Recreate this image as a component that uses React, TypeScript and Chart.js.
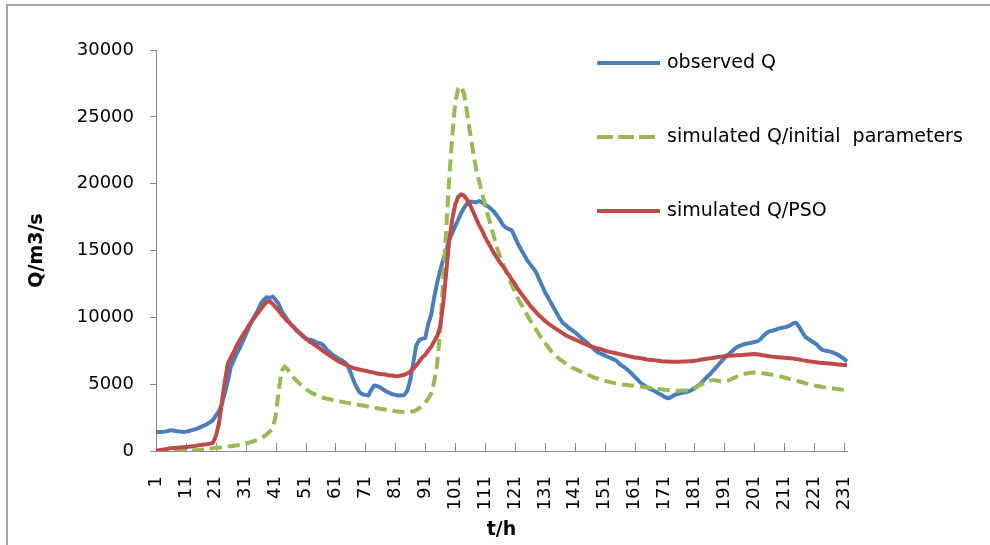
import React, { useEffect, useRef } from "react";
import { Chart, registerables } from "chart.js";

Chart.register(...registerables);

// ---- data ----
const timeSteps: string[] = Array.from({ length: 232 }, (_, i) => String(i + 1));

const tickLabels = [
  "1", "11", "21", "31", "41", "51", "61", "71", "81", "91", "101", "111",
  "121", "131", "141", "151", "161", "171", "181", "191", "201", "211", "221", "231",
];

const yTicks = [0, 5000, 10000, 15000, 20000, 25000, 30000];

const observedQ = [
  1400, 1420, 1430, 1450, 1500, 1560, 1520, 1480, 1460, 1430,
  1450, 1500, 1560, 1620, 1700, 1800, 1900, 2000, 2150, 2300,
  2650, 2950, 3500, 4300, 5200, 6300, 6800, 7300, 7700, 8200,
  8700, 9200, 9700, 10100, 10500, 11000, 11300, 11500, 11450, 11550,
  11300, 11000, 10500, 10100, 9800, 9500, 9300, 9000, 8800, 8600,
  8400, 8350, 8300, 8200, 8100, 8050, 7900, 7600, 7400, 7200,
  7050, 6900, 6800, 6650, 6400, 5900, 5300, 4800, 4400, 4250,
  4200, 4150, 4600, 4900, 4850, 4750, 4600, 4450, 4350, 4250,
  4200, 4150, 4150, 4200, 4500, 5300, 6600, 7900, 8300, 8400,
  8450, 9500, 10200, 11500, 12600, 13500, 14300, 15000, 15800, 16300,
  16800, 17300, 17800, 18200, 18500, 18650, 18650, 18600, 18700, 18600,
  18400, 18300, 18100, 17900, 17600, 17300, 16900, 16700, 16600, 16500,
  16000, 15500, 15100, 14700, 14300, 14000, 13700, 13400, 12900, 12400,
  11900, 11500, 11100, 10700, 10300, 9900, 9600, 9400, 9200, 9050,
  8900, 8700, 8500, 8300, 8150, 7900, 7700, 7500, 7350, 7250,
  7150, 7050, 6950, 6850, 6750, 6500, 6350, 6200, 6000, 5800,
  5550, 5350, 5100, 4950, 4800, 4650, 4550, 4450, 4300, 4200,
  4050, 3950, 4000, 4150, 4250, 4300, 4350, 4400, 4450, 4550,
  4700, 4850, 5000, 5250, 5500, 5700, 5950, 6200, 6450, 6700,
  6950, 7150, 7350, 7550, 7750, 7850, 7950, 8000, 8050, 8100,
  8150, 8200, 8350, 8600, 8800, 8950, 9000, 9050, 9150, 9200,
  9250, 9300, 9400, 9550, 9600, 9300, 8900, 8550, 8400, 8250,
  8100, 7950, 7700, 7550, 7500, 7450, 7400, 7300, 7200, 7050,
  6900, 6700,
];

const simulatedInitial = [
  0, 0, 0, 0, 0, 0, 0, 0, 0, 10,
  20, 30, 40, 55, 70, 90, 110, 140, 170, 200,
  230, 260, 290, 310, 330, 360, 390, 420, 450, 500,
  560, 620, 690, 760, 850, 950, 1080, 1250, 1450, 1700,
  2600, 4500, 6000, 6300, 6100, 5800, 5500, 5250, 5050, 4850,
  4650, 4500, 4350, 4250, 4150, 4050, 3980, 3920, 3870, 3820,
  3770, 3720, 3680, 3640, 3600, 3560, 3520, 3480, 3440, 3400,
  3360, 3320, 3280, 3240, 3200, 3160, 3120, 3080, 3040, 3000,
  2970, 2950, 2930, 2920, 2920, 2930, 2970, 3050, 3200, 3400,
  3650, 3900, 4300, 5200, 6500, 9000, 12800, 16500, 20300, 23400,
  26000, 27100, 27300, 26700, 25300, 23800, 22400, 21100, 20200, 19300,
  18400, 17600, 16800, 16000, 15200, 14600, 14000, 13500, 12900, 12400,
  11900, 11400, 11000, 10600, 10200, 9800, 9450, 9100, 8750, 8400,
  8100, 7800, 7500, 7250, 7050, 6850, 6700, 6550, 6400, 6250,
  6150, 6050, 5950, 5850, 5750, 5650, 5550, 5450, 5400, 5300,
  5250, 5200, 5150, 5100, 5050, 5000, 4980, 4950, 4920, 4900,
  4870, 4850, 4820, 4790, 4760, 4730, 4700, 4670, 4640, 4610,
  4580, 4560, 4540, 4520, 4510, 4510, 4520, 4530, 4550, 4570,
  4650, 4800, 4950, 5050, 5150, 5250, 5300, 5300, 5250, 5200,
  5200, 5250, 5350, 5450, 5550, 5620, 5700, 5780, 5830, 5860,
  5870, 5860, 5840, 5810, 5780, 5740, 5700, 5650, 5600, 5550,
  5500, 5440, 5380, 5320, 5260, 5200, 5140, 5080, 5020, 4960,
  4910, 4860, 4820, 4780, 4750, 4720, 4690, 4660, 4630, 4600,
  4570, 4550,
];

const simulatedPSO = [
  20, 60, 100, 140, 170, 200, 220, 240, 260, 280,
  300, 320, 350, 380, 420, 450, 480, 500, 550, 600,
  1100, 2000, 3600, 5200, 6500, 7000, 7400, 7900, 8300, 8650,
  9000, 9400, 9700, 10000, 10300, 10600, 10900, 11150, 11200, 11000,
  10750, 10500, 10200, 9950, 9700, 9500, 9250, 9050, 8850, 8650,
  8450, 8250, 8100, 7950, 7800, 7650, 7450, 7300, 7150, 7000,
  6850, 6700, 6600, 6500, 6400, 6300, 6200, 6150, 6100, 6050,
  6000, 5950, 5900, 5850, 5800, 5750, 5750, 5700, 5650, 5650,
  5600, 5600, 5650, 5700, 5800, 5950, 6150, 6400, 6700, 7000,
  7200, 7500, 7800, 8200, 8600, 9300, 11000, 13300, 15700, 17300,
  18400, 19000, 19200, 19100, 18800, 18400, 17900, 17400, 16900, 16500,
  16000, 15600, 15200, 14800, 14450, 14100, 13800, 13450, 13150, 12800,
  12500, 12100, 11800, 11500, 11200, 10900, 10650, 10400, 10150, 9950,
  9750, 9550, 9400, 9250, 9100, 8950, 8800, 8650, 8550, 8450,
  8350, 8250, 8150, 8050, 7950, 7850, 7800, 7700, 7650, 7600,
  7500, 7450, 7400, 7350, 7300, 7250, 7200, 7150, 7100, 7050,
  7000, 6980, 6950, 6900, 6850, 6820, 6800, 6780, 6750, 6720,
  6700, 6690, 6680, 6680, 6680, 6680, 6690, 6700, 6710, 6720,
  6750, 6780, 6820, 6860, 6900, 6930, 6960, 7000, 7030, 7060,
  7100, 7120, 7130, 7150, 7160, 7170, 7180, 7200, 7220, 7240,
  7250, 7240, 7200, 7160, 7120, 7090, 7060, 7040, 7020, 7000,
  6980, 6960, 6940, 6920, 6890, 6850, 6800, 6760, 6720, 6690,
  6660, 6630, 6600, 6580, 6560, 6540, 6520, 6500, 6480, 6460,
  6440, 6420,
];

const seriesNames = [
  "observed Q",
  "simulated Q/initial  parameters",
  "simulated Q/PSO",
];

// ---- plugins ----
const insideTicks = {
  id: "insideTicks",
  beforeDatasetsDraw(chart: any) {
    const xs = chart.scales.x;
    const ctx = chart.ctx;
    ctx.save();
    ctx.strokeStyle = "#8c8c8c";
    ctx.lineWidth = 1;
    xs.ticks.forEach((_: any, i: number) => {
      const px = Math.round(xs.getPixelForTick(i)) + 0.5;
      ctx.beginPath();
      ctx.moveTo(px, xs.top);
      ctx.lineTo(px, xs.top - 8);
      ctx.stroke();
    });
    ctx.restore();
  },
};

const sideLegend = {
  id: "sideLegend",
  afterDraw(chart: any, _args: any, opts: any) {
    const ctx = chart.ctx;
    chart.data.datasets.forEach((ds: any, i: number) => {
      const y = opts.top + i * opts.gap;
      ctx.save();
      ctx.strokeStyle = ds.borderColor;
      ctx.lineWidth = ds.borderWidth;
      ctx.lineCap = "butt";
      ctx.setLineDash(ds.legendDash || []);
      ctx.beginPath();
      ctx.moveTo(opts.x, y);
      ctx.lineTo(opts.x + opts.lineLen, y);
      ctx.stroke();
      ctx.setLineDash([]);
      ctx.fillStyle = "#000";
      ctx.font = opts.font;
      ctx.textBaseline = "middle";
      ctx.textAlign = "left";
      ctx.fillText(ds.label, opts.x + opts.lineLen + opts.textGap, y);
      ctx.restore();
    });
  },
};

export default function App() {
  const canvasRef = useRef<HTMLCanvasElement | null>(null);

  useEffect(() => {
    if (!canvasRef.current) return;
    const chart = new Chart(canvasRef.current, {
      type: "line",
      data: {
        labels: timeSteps,
        datasets: [
          {
            label: seriesNames[0],
            data: observedQ,
            borderColor: "#4a7ebb",
            borderWidth: 4,
            pointRadius: 0,
            tension: 0,
            borderJoinStyle: "round",
            order: 2,
          } as any,
          {
            label: seriesNames[1],
            data: simulatedInitial,
            borderColor: "#98b954",
            borderWidth: 4,
            borderDash: [12, 6],
            legendDash: [16, 5],
            pointRadius: 0,
            tension: 0,
            order: 1,
          } as any,
          {
            label: seriesNames[2],
            data: simulatedPSO,
            borderColor: "#be4b48",
            borderWidth: 4,
            pointRadius: 0,
            tension: 0,
            borderJoinStyle: "round",
            order: 0,
          } as any,
        ],
      },
      options: {
        responsive: false,
        maintainAspectRatio: false,
        devicePixelRatio: 1,
        animation: false,
        layout: { padding: { left: 20, right: 143, top: 50, bottom: 0 } },
        plugins: {
          legend: { display: false },
          tooltip: { enabled: false },
          sideLegend: {
            x: 597,
            top: 63,
            gap: 74,
            lineLen: 63,
            textGap: 7,
            font: "19px 'DejaVu Sans'",
          },
        } as any,
        scales: {
          x: {
            type: "category",
            offset: false,
            grid: { display: true, drawOnChartArea: false, drawTicks: false },
            border: { display: true, color: "#8c8c8c", width: 1 },
            ticks: {
              autoSkip: false,
              maxRotation: 90,
              minRotation: 90,
              padding: 25,
              color: "#000",
              font: { family: "DejaVu Sans", size: 18 },
            },
            title: {
              display: true,
              text: "t/h",
              color: "#000",
              font: { family: "DejaVu Sans", size: 19, weight: "bold" },
              padding: { top: 0, bottom: 4 },
            },
            afterBuildTicks: (scale: any) => {
              scale.ticks = scale.ticks.filter((t: any) =>
                tickLabels.includes(timeSteps[t.value])
              );
            },
            afterFit: (scale: any) => {
              scale.height = 94;
            },
          },
          y: {
            min: 0,
            max: 30000,
            afterBuildTicks: (scale: any) => {
              scale.ticks = yTicks.map((v) => ({ value: v }));
            },
            grid: { display: true, drawOnChartArea: false, drawTicks: true, tickLength: 6, color: "#8c8c8c" },
            border: { display: true, color: "#8c8c8c", width: 1 },
            ticks: {
              padding: 16,
              color: "#000",
              font: { family: "DejaVu Sans", size: 18 },
              callback: (v: any) => String(v),
            },
            title: {
              display: true,
              text: "Q/m3/s",
              color: "#000",
              font: { family: "DejaVu Sans", size: 19, weight: "bold" },
              padding: { top: 6, bottom: 0 },
            },
            afterFit: (scale: any) => {
              scale.width = 136;
            },
          },
        },
      },
      plugins: [insideTicks, sideLegend],
    });
    return () => chart.destroy();
  }, []);

  return (
    <div
      style={{
        position: "fixed",
        left: 0,
        top: 0,
        width: 990,
        height: 545,
        background: "#fff",
        overflow: "hidden",
      }}
    >
      <div
        style={{
          position: "absolute",
          left: 6,
          top: 4,
          width: 984,
          height: 541,
          borderTop: "2px solid #a6a6a6",
          borderLeft: "2px solid #a6a6a6",
          boxSizing: "border-box",
        }}
      />
      <canvas
        ref={canvasRef}
        width={990}
        height={545}
        style={{ position: "absolute", left: 0, top: 0, display: "block" }}
      />
    </div>
  );
}
